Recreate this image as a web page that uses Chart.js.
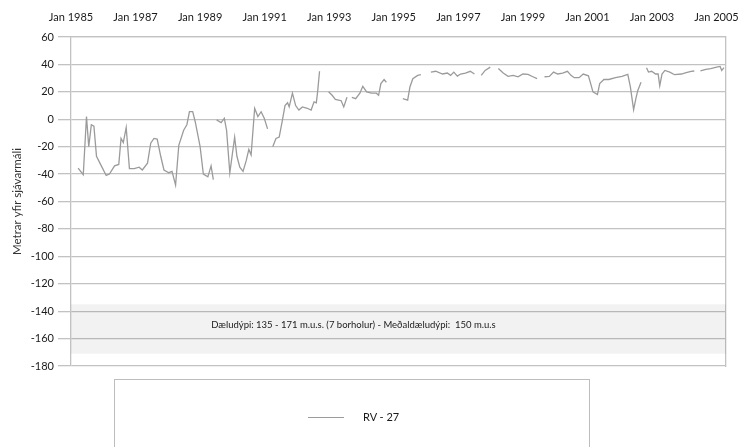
<!DOCTYPE html>
<html>
<head>
<meta charset="utf-8">
<script src="https://cdn.jsdelivr.net/npm/chart.js@4.4.1/dist/chart.umd.min.js"></script>
<style>
  html, body { margin: 0; padding: 0; background: #fff; }
  #wrap { position: relative; width: 752px; height: 447px; overflow: hidden; }
  #legendBox {
    position: absolute; left: 114px; top: 379px; width: 476px; height: 100px;
    border: 1px solid #bdbdbd; box-sizing: border-box;
    font-family: Lato, sans-serif; font-size: 11px; color: #1a1a1a;
  }
  #legendLine { position: absolute; left: 193px; top: 37px; width: 36px; height: 0; border-top: 1.3px solid #9b9b9b; }
  #legendText { position: absolute; left: 248px; top: 30px; line-height: 14px; }
</style>
</head>
<body>
<div id="wrap">
  <canvas id="levelChart" width="752" height="447"></canvas>
  <div id="legendBox"><span id="legendLine"></span><span id="legendText"></span></div>
</div>
<script>
// RV - 27, water level (m above sea level); null = gap in the record
var seriesName = 'RV - 27';
var years = [
  1985.22, 1985.38, 1985.48, 1985.55, 1985.63, 1985.71, 1985.79, 1985.94, 1986.09, 1986.19,
  1986.35, 1986.48, 1986.55, 1986.62, 1986.71, 1986.81, 1986.96, 1987.11, 1987.21, 1987.37,
  1987.47, 1987.57, 1987.67, 1987.78, 1987.88, 1988.03, 1988.13, 1988.24, 1988.34, 1988.49,
  1988.59, 1988.67, 1988.77, 1988.85, 1989.00, 1989.10, 1989.24, 1989.34, 1989.41, 1989.46,
  1989.51, 1989.65, 1989.75, 1989.82, 1989.92, 1990.07, 1990.14, 1990.23, 1990.33, 1990.43,
  1990.51, 1990.58, 1990.69, 1990.79, 1990.89, 1990.99, 1991.09, 1991.17,
  1991.25, 1991.35, 1991.45, 1991.55, 1991.63, 1991.71, 1991.76, 1991.86, 1991.96, 1992.06,
  1992.17, 1992.32, 1992.44, 1992.53, 1992.60, 1992.64, 1992.70, 1992.84,
  1992.98, 1993.09, 1993.19, 1993.29, 1993.37, 1993.45, 1993.55, 1993.62,
  1993.70, 1993.82, 1993.95, 1994.04, 1994.16, 1994.31, 1994.46, 1994.53, 1994.60, 1994.70,
  1994.77, 1995.00,
  1995.28, 1995.43, 1995.50, 1995.59, 1995.74, 1995.84, 1996.00,
  1996.15, 1996.30, 1996.51, 1996.66, 1996.76, 1996.86, 1996.97, 1997.07, 1997.22, 1997.37,
  1997.50, 1997.60,
  1997.71, 1997.83, 1997.99, 1998.10,
  1998.24, 1998.39, 1998.54, 1998.70, 1998.85, 1999.00, 1999.16, 1999.31, 1999.44, 1999.55,
  1999.67, 1999.82, 1999.95, 2000.08, 2000.23, 2000.38, 2000.49, 2000.59, 2000.74, 2000.87,
  2001.03, 2001.10, 2001.17, 2001.31, 2001.38, 2001.51, 2001.66, 2001.87, 2002.07, 2002.25,
  2002.33, 2002.43, 2002.50, 2002.56, 2002.66, 2002.75,
  2002.83, 2002.89, 2002.99, 2003.11, 2003.19, 2003.24, 2003.31, 2003.40, 2003.55, 2003.70,
  2003.91, 2004.06, 2004.21, 2004.31, 2004.40,
  2004.50, 2004.67, 2004.82, 2005.00, 2005.11, 2005.16, 2005.23
];
var levels = [
  -35.6, -40.5, 2, -20, -4, -5, -27, -34, -41, -40,
  -34, -33, -14, -17, -6, -36, -36, -35, -37, -32,
  -17.5, -14, -14.5, -27, -37, -39, -38, -48, -19, -8,
  -4, 5.6, 5.6, -2, -20, -40, -42, -34, -44, null,
  -0.5, -2.4, 0.7, -8, -39, -13, -27, -35, -38, -30,
  -22, -26, 8, 2, 5.5, 0.5, -7, null,
  -20, -14, -13, -0.6, 10, 12, 9, 19, 10, 6.7,
  9, 8, 6.7, 12.7, 12, 20, 35, null,
  20, 17.5, 14.5, 14, 13.5, 9, 16, null,
  16, 15, 19, 24, 20, 19, 19, 17.5, 26, 29,
  27, null,
  15, 14, 23.5, 29.6, 32, 32.5, null,
  34.4, 35, 33, 33.7, 32, 34.4, 31.5, 33, 33.7, 35,
  33, null,
  32, 35.6, 38, null,
  37, 33.7, 31.3, 32, 31, 33, 32.7, 31, 29.6, null,
  31, 31.3, 34.4, 33, 33.7, 35, 32, 30.3, 30.3, 33,
  31.7, 26, 20, 18, 26, 29, 29, 30.3, 31.3, 32.7,
  23.6, 7, 15, 21, 27, null,
  37.6, 34.4, 35, 33, 33, 24.5, 33, 35.6, 34.4, 32.5,
  33, 34, 35, 35.2, null,
  35.2, 36.4, 37, 38, 38.5, 35.6, 37.6
];
var tickYears = [1985, 1987, 1989, 1991, 1993, 1995, 1997, 1999, 2001, 2003, 2005];
var firstYear = 1985;
var lastYear = 2005.29;
var levelMin = -180;
var levelMax = 60;
var bandTop = -135;
var bandBottom = -171;
var bandMid = -150;
var bandLabel = 'Dæludýpi: 135 - 171 m.u.s. (7 borholur) - Meðaldæludýpi:  150 m.u.s';
var axisTitle = 'Metrar yfir sjávarmáli';

var fontFamily = 'Lato, sans-serif';
var textColor = '#1a1a1a';
var gridColor = '#c2c2c2';

var bandLabelPlugin = {
  id: 'bandLabel',
  afterDatasetsDraw: function(chart) {
    var ctx = chart.ctx;
    var x = chart.scales.x.getPixelForValue(1993.75);
    var y = chart.scales.y.getPixelForValue(bandMid);
    ctx.save();
    ctx.font = '9.5px ' + fontFamily;
    ctx.fillStyle = textColor;
    ctx.textAlign = 'center';
    ctx.textBaseline = 'middle';
    ctx.fillText(bandLabel, x, y);
    ctx.restore();
  }
};

document.getElementById('legendText').textContent = seriesName;

var ctx = document.getElementById('levelChart').getContext('2d');
var levelChart = new Chart(ctx, {
  type: 'line',
  data: {
    datasets: [{
      label: seriesName,
      data: years.map(function(x, i) { return { x: x, y: levels[i] }; }),
      borderColor: '#9b9b9b',
      borderWidth: 1.3,
      pointRadius: 0,
      tension: 0,
      spanGaps: false,
      fill: false
    }, {
      label: 'band top',
      data: [{ x: firstYear, y: bandTop }, { x: lastYear, y: bandTop }],
      borderWidth: 0,
      pointRadius: 0,
      fill: false
    }, {
      label: 'band bottom',
      data: [{ x: firstYear, y: bandBottom }, { x: lastYear, y: bandBottom }],
      borderWidth: 0,
      pointRadius: 0,
      fill: '-1',
      backgroundColor: 'rgba(0, 0, 0, 0.05)'
    }]
  },
  options: {
    responsive: false,
    animation: false,
    events: [],
    layout: { padding: { left: 0, top: 0, right: 18, bottom: 81 } },
    plugins: {
      legend: { display: false },
      tooltip: { enabled: false }
    },
    scales: {
      x: {
        type: 'linear',
        position: 'top',
        min: firstYear,
        max: lastYear,
        afterBuildTicks: function(scale) {
          scale.ticks = tickYears.map(function(v) { return { value: v }; });
        },
        afterFit: function(scale) { scale.height = 37; },
        ticks: {
          autoSkip: false,
          maxRotation: 0,
          padding: 13,
          color: textColor,
          font: { family: fontFamily, size: 11 },
          callback: function(v) { return 'Jan ' + v; }
        },
        grid: { display: false, drawTicks: false },
        border: { display: true, color: gridColor, width: 1.3 }
      },
      y: {
        min: levelMin,
        max: levelMax,
        afterFit: function(scale) { scale.width = 71; },
        ticks: {
          stepSize: 20,
          padding: 4,
          color: textColor,
          font: { family: fontFamily, size: 11 }
        },
        grid: { color: gridColor, lineWidth: 1.3, tickLength: 13 },
        border: { display: true, color: gridColor, width: 1.3 },
        title: {
          display: true,
          text: axisTitle,
          color: '#333',
          padding: { top: 10, bottom: 0 },
          font: { family: fontFamily, size: 11.5 }
        }
      },
      y2: {
        position: 'right',
        min: levelMin,
        max: levelMax,
        afterFit: function(scale) { scale.width = 0; },
        ticks: { display: false },
        grid: { display: false, drawTicks: false },
        border: { display: true, color: gridColor, width: 1.3 }
      }
    }
  },
  plugins: [bandLabelPlugin]
});
</script>
</body>
</html>
